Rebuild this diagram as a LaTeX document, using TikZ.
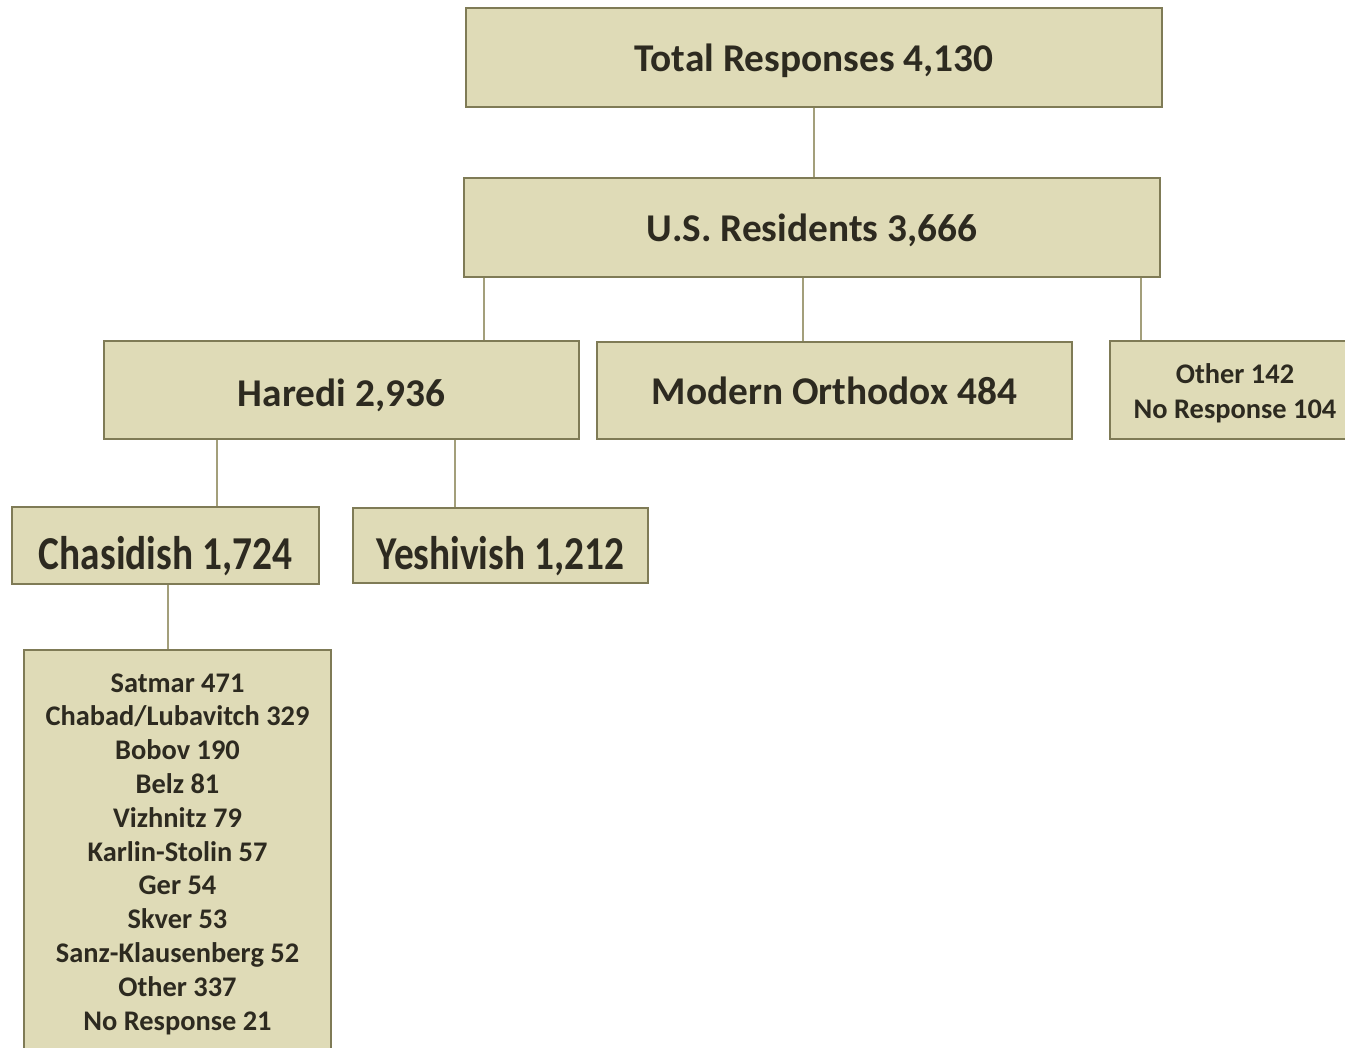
\documentclass[tikz,border=0pt]{standalone}
\usepackage{fontspec}
\setmainfont{Carlito}
\usetikzlibrary{positioning}
\definecolor{boxfill}{HTML}{DFDBB7}
\definecolor{boxline}{HTML}{7F7B56}
\definecolor{linkcol}{HTML}{A39F7B}
\definecolor{inkcol}{HTML}{2D2A20}

\newcommand{\tallish}[1]{\scalebox{1}[1.2]{#1}}

\tikzset{
  box/.style={draw=boxline, fill=boxfill, line width=1.5pt, inner sep=0pt,
    align=center, text=inkcol, font=\bfseries\fontsize{29.5}{35}\selectfont},
  smallbox/.style={box, font=\bfseries\fontsize{21.3}{26.25}\selectfont},
  textlift/.style={text height=#1, text depth=0pt},
  link/.style={draw=linkcol, line width=1.5pt}
}

\begin{document}
\begin{tikzpicture}[x=0.75pt, y=-0.75pt]
\useasboundingbox (0,0) rectangle (1345,1047);
\clip (0,0) rectangle (1345,1047);

% top levels
\node[box, textlift=20.25pt, minimum width=522pt, minimum height=74.25pt] (total) at (814,57.5) {Total Responses 4,130};
\node[box, textlift=21.3pt, minimum width=522pt, minimum height=74.25pt] (us) at (812,227.5) {U.S. Residents 3,666};

% denominations
\node[box, textlift=25pt, minimum width=356.25pt, minimum height=73.5pt] (haredi) at (341.5,390) {Haredi 2,936};
\node[box, textlift=20.25pt, minimum width=356.25pt, minimum height=72.75pt] (modern) at (834.5,390.5) {Modern Orthodox 484};
\node[smallbox, textlift=42.5pt, minimum width=187.5pt, minimum height=73.5pt] (other) at (1235,390) {Other 142\\No Response 104};

% haredi groups
\node[box, textlift=36pt, minimum width=230.25pt, minimum height=57.75pt] (chasid) at (165.5,545.5) {\tallish{Chasidish 1,724}};
\node[box, textlift=36pt, minimum width=221.25pt, minimum height=56.25pt] (yeshiv) at (500.5,545.5) {\tallish{Yeshivish 1,212}};

% chasidic courts
\node[smallbox, font=\bfseries\fontsize{21.3}{25.35}\selectfont, textlift=255pt,
  minimum width=230.25pt, minimum height=315pt] (courts) at (177.5,860) {Satmar 471\\Chabad/Lubavitch 329\\Bobov 190\\Belz 81\\Vizhnitz 79\\Karlin-Stolin 57\\Ger 54\\Skver 53\\Sanz-Klausenberg 52\\Other 337\\No Response 21};

% connector columns
\coordinate (jharedi) at (484,0);
\coordinate (jmodern) at (803,0);
\coordinate (jother) at (1141,0);
\coordinate (jchasid) at (217,0);
\coordinate (jyeshiv) at (455,0);
\coordinate (jcourts) at (168,0);

\draw[link] (total.south) -- (total.south |- us.north);
\draw[link] (us.south -| jharedi) -- (haredi.north -| jharedi);
\draw[link] (us.south -| jmodern) -- (modern.north -| jmodern);
\draw[link] (us.south -| jother) -- (other.north -| jother);
\draw[link] (haredi.south -| jchasid) -- (chasid.north -| jchasid);
\draw[link] (haredi.south -| jyeshiv) -- (yeshiv.north -| jyeshiv);
\draw[link] (chasid.south -| jcourts) -- (courts.north -| jcourts);
\end{tikzpicture}
\end{document}
